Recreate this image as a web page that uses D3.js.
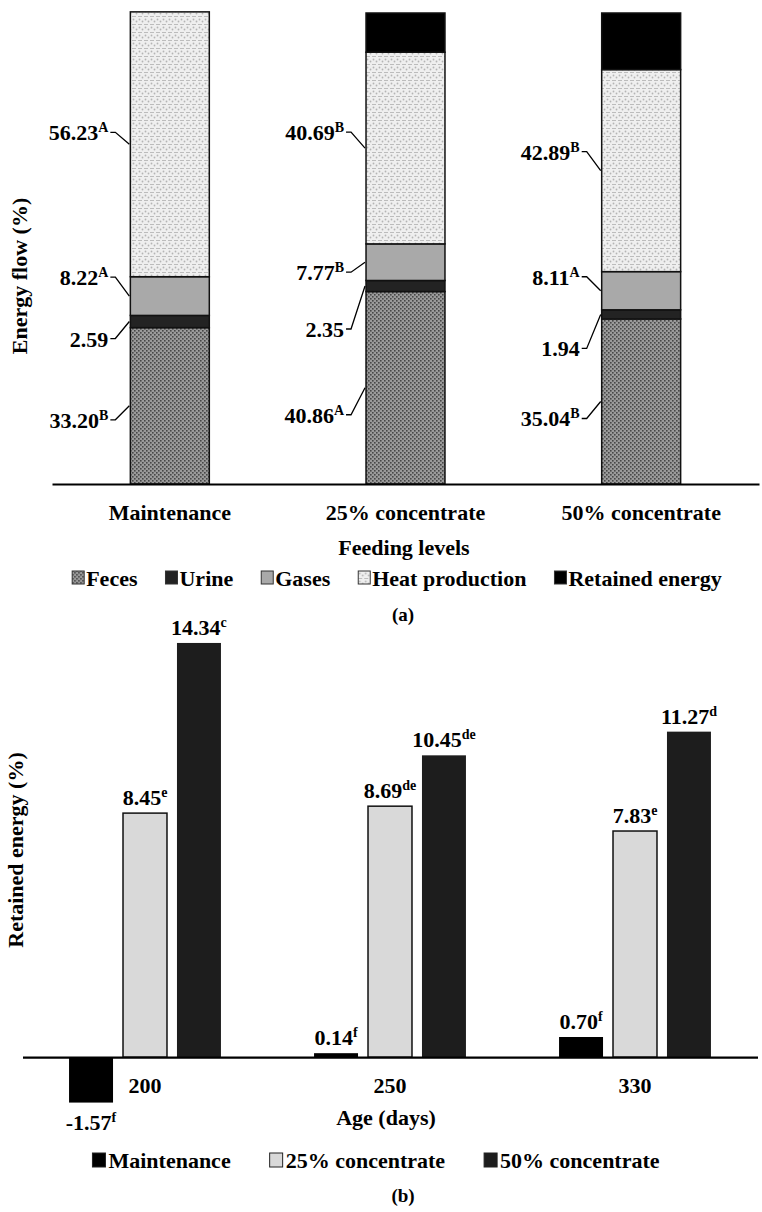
<!DOCTYPE html>
<html>
<head>
<meta charset="utf-8">
<script src="https://cdn.jsdelivr.net/npm/d3@7"></script>
<style>
  body { margin: 0; background: #fff; }
  svg text { font-family: "Liberation Serif", "DejaVu Serif", serif; font-weight: bold; fill: #000; }
</style>
</head>
<body>
<div id="chart"></div>
<script>
// ---- panel (a) data: energy flow (%) by feeding level
var feedLevels = ["Maintenance", "25% concentrate", "50% concentrate"];
var flowKeys = ["Feces", "Urine", "Gases", "Heat production", "Retained energy"];
var feces = [33.20, 40.86, 35.04];
var urine = [2.59, 2.35, 1.94];
var gases = [8.22, 7.77, 8.11];
var heat = [56.23, 40.69, 42.89];
var retained = [0, 8.33, 12.02]; // not labelled
var fecesSup = ["B", "A", "B"];
var urineSup = ["", "", ""];
var gasesSup = ["A", "B", "A"];
var heatSup = ["A", "B", "B"];

// ---- panel (b) data: retained energy (%) by age
var ages = ["200", "250", "330"];
var groups = ["Maintenance", "25% concentrate", "50% concentrate"];
var maintRE = [-1.57, 0.14, 0.70];
var conc25RE = [8.45, 8.69, 7.83];
var conc50RE = [14.34, 10.45, 11.27];
var maintSup = ["f", "f", "f"];
var conc25Sup = ["e", "de", "e"];
var conc50Sup = ["c", "de", "d"];

var w = 762, h = 1212;
var FONT = '"Liberation Serif", "DejaVu Serif", serif';
var svg = d3.select("#chart").append("svg")
    .attr("width", w)
    .attr("height", h);

// patterns for the stacked bars
var defs = svg.append("defs");
var pf = defs.append("pattern").attr("id", "pFeces")
    .attr("patternUnits", "userSpaceOnUse").attr("width", 4).attr("height", 4);
pf.append("rect").attr("width", 4).attr("height", 4).attr("fill", "#9a9a9a");
pf.append("rect").attr("x", 0).attr("y", 0).attr("width", 1.6).attr("height", 1.6).attr("fill", "#474747");
pf.append("rect").attr("x", 2).attr("y", 2).attr("width", 1.6).attr("height", 1.6).attr("fill", "#474747");

var ph = defs.append("pattern").attr("id", "pHeat")
    .attr("patternUnits", "userSpaceOnUse").attr("width", 6).attr("height", 8);
ph.append("rect").attr("width", 6).attr("height", 8).attr("fill", "#efefef");
ph.append("rect").attr("x", 0).attr("y", 0).attr("width", 4).attr("height", 1).attr("fill", "#bcbcbc");
ph.append("circle").attr("cx", 1.5).attr("cy", 3.5).attr("r", 0.9).attr("fill", "#b5b5b5");
ph.append("circle").attr("cx", 4.5).attr("cy", 5.5).attr("r", 0.9).attr("fill", "#b5b5b5");

var flowFill = {
    "Feces": "url(#pFeces)",
    "Urine": "#232323",
    "Gases": "#a9a9a9",
    "Heat production": "url(#pHeat)",
    "Retained energy": "#000"
};

// =================== PANEL (a) ===================
var tableA = feedLevels.map(function(c, i) {
    return {level: c, "Feces": feces[i], "Urine": urine[i], "Gases": gases[i],
        "Heat production": heat[i], "Retained energy": retained[i]};
});
var supA = {"Feces": fecesSup, "Urine": urineSup, "Gases": gasesSup, "Heat production": heatSup};

var xA = d3.scaleBand().domain(feedLevels).range([52, 759])
    .paddingInner(0.665).paddingOuter(0.3325);
var yA = d3.scaleLinear().domain([0, 100]).range([484, 13]);

var stackA = d3.stack().keys(flowKeys)(tableA);

var layers = svg.selectAll(".layer")
    .data(stackA)
    .enter()
    .append("g")
    .attr("class", "layer")
    .attr("fill", function(d) { return flowFill[d.key]; });

layers.selectAll("rect")
    .data(function(d) { return d; })
    .enter()
    .append("rect")
    .attr("x", function(d) { return xA(d.data.level); })
    .attr("width", xA.bandwidth())
    .attr("y", function(d) { return yA(d[1]); })
    .attr("height", function(d) { return yA(d[0]) - yA(d[1]); })
    .attr("stroke", "#111")
    .attr("stroke-width", 1.5);

// leader labels: pixel shift of label from segment middle (layout only)
var labelShift = {
    "Feces": [15, 28, 18],
    "Urine": [18, 44, 35],
    "Gases": [-18, 11, -13],
    "Heat production": [-11, -15, -18]
};
["Feces", "Urine", "Gases", "Heat production"].forEach(function(key) {
    var layer = stackA.find(function(s) { return s.key === key; });
    layer.forEach(function(d, i) {
        var bx = xA(d.data.level);
        var mid = (yA(d[0]) + yA(d[1])) / 2;
        var ly = mid + labelShift[key][i];
        var t = svg.append("text")
            .attr("x", bx - 22)
            .attr("y", ly + 7)
            .attr("text-anchor", "end")
            .style("font-size", "22px");
        t.append("tspan").text(d.data[key].toFixed(2));
        if (supA[key][i]) {
            t.append("tspan").attr("dy", -8).style("font-size", "14px").text(supA[key][i]);
        }
        svg.append("path")
            .attr("d", "M" + (bx - 20) + "," + (ly - 1) + "L" + (bx - 15) + "," + (ly - 1) +
                "L" + (bx - 1) + "," + mid)
            .attr("fill", "none")
            .attr("stroke", "#000")
            .attr("stroke-width", 1.3);
    });
});

var axA = svg.append("g")
    .attr("transform", "translate(0," + yA(0) + ")")
    .call(d3.axisBottom(xA).tickSize(0).tickSizeOuter(0).tickPadding(20));
axA.attr("font-family", null).attr("font-size", null);
axA.select(".domain").attr("stroke", "#000").attr("stroke-width", 2.2);
axA.selectAll("text").style("font-size", "22px");

svg.append("text").attr("x", 404).attr("y", 555).attr("text-anchor", "middle")
    .style("font-size", "22px").text("Feeding levels");

svg.append("text")
    .attr("transform", "translate(27,276) rotate(-90)")
    .attr("text-anchor", "middle")
    .style("font-size", "22px")
    .text("Energy flow (%)");

// legend (a)
var legA = svg.append("g").attr("class", "legend");
var lx = 0;
flowKeys.forEach(function(k) {
    var g = legA.append("g").attr("transform", "translate(" + lx + ",0)");
    g.append("rect").attr("x", 0).attr("y", -7).attr("width", 12).attr("height", 13)
        .attr("fill", flowFill[k]).attr("stroke", "#333").attr("stroke-width", 1);
    var t = g.append("text").attr("x", 14).attr("y", 8).style("font-size", "22px").text(k);
    lx += 14 + t.node().getComputedTextLength() + 28;
});
lx -= 28;
legA.attr("transform", "translate(" + (397 - lx / 2) + ",578)");

svg.append("text").attr("x", 403).attr("y", 621).attr("text-anchor", "middle")
    .style("font-size", "19px").text("(a)");

// =================== PANEL (b) ===================
var seriesB = [maintRE, conc25RE, conc50RE];
var supB = [maintSup, conc25Sup, conc50Sup];
var fillB = ["#000", "#d9d9d9", "#1d1d1d"];

var x0 = d3.scaleBand().domain(ages).range([22.5, 757.5])
    .paddingInner(0.38).paddingOuter(0.19);
var x1 = d3.scaleBand().domain(groups).range([0, x0.bandwidth()]).paddingInner(0.185);
var yB = d3.scaleLinear().domain([-2, 16]).range([1115, 595]);

var barData = [];
ages.forEach(function(a, i) {
    groups.forEach(function(g, j) {
        barData.push({age: a, group: g, gi: j, value: seriesB[j][i], sup: supB[j][i]});
    });
});

svg.selectAll(".barB")
    .data(barData)
    .enter()
    .append("rect")
    .attr("class", "barB")
    .attr("x", function(d) { return x0(d.age) + x1(d.group); })
    .attr("width", x1.bandwidth())
    .attr("y", function(d) { return yB(Math.max(0, d.value)); })
    .attr("height", function(d) { return Math.abs(yB(d.value) - yB(0)); })
    .attr("fill", function(d) { return fillB[d.gi]; })
    .attr("stroke", function(d) { return d.gi === 1 ? "#111" : "none"; })
    .attr("stroke-width", 1.5);

var lbl = svg.selectAll(".lblB")
    .data(barData)
    .enter()
    .append("text")
    .attr("class", "lblB")
    .attr("x", function(d) { return x0(d.age) + x1(d.group) + x1.bandwidth() / 2; })
    .attr("y", function(d) { return d.value < 0 ? yB(d.value) + 27 : yB(d.value) - 8; })
    .attr("text-anchor", "middle")
    .style("font-size", "22px");
lbl.append("tspan").text(function(d) { return d.value.toFixed(2); });
lbl.append("tspan").attr("dy", -8).style("font-size", "14px").text(function(d) { return d.sup; });

var axB = svg.append("g")
    .attr("transform", "translate(0," + yB(0) + ")")
    .call(d3.axisBottom(x0).tickSize(0).tickSizeOuter(0).tickPadding(20));
axB.attr("font-family", null).attr("font-size", null);
axB.select(".domain").attr("stroke", "#000").attr("stroke-width", 2.2);
axB.selectAll("text").style("font-size", "22px");

svg.append("text").attr("x", 386).attr("y", 1125).attr("text-anchor", "middle")
    .style("font-size", "22px").text("Age (days)");

svg.append("text")
    .attr("transform", "translate(23,850) rotate(-90)")
    .attr("text-anchor", "middle")
    .style("font-size", "22px")
    .text("Retained energy (%)");

// legend (b)
var legB = svg.append("g").attr("class", "legend");
var lxb = 0;
groups.forEach(function(k, j) {
    var g = legB.append("g").attr("transform", "translate(" + lxb + ",0)");
    g.append("rect").attr("x", 0).attr("y", -7).attr("width", 13).attr("height", 14)
        .attr("fill", fillB[j]).attr("stroke", "#222").attr("stroke-width", 1);
    var t = g.append("text").attr("x", 16).attr("y", 8).style("font-size", "22px").text(k);
    lxb += 16 + t.node().getComputedTextLength() + 39;
});
lxb -= 39;
legB.attr("transform", "translate(" + (376 - lxb / 2) + ",1160)");

svg.append("text").attr("x", 403).attr("y", 1202).attr("text-anchor", "middle")
    .style("font-size", "19px").text("(b)");
</script>
</body>
</html>
